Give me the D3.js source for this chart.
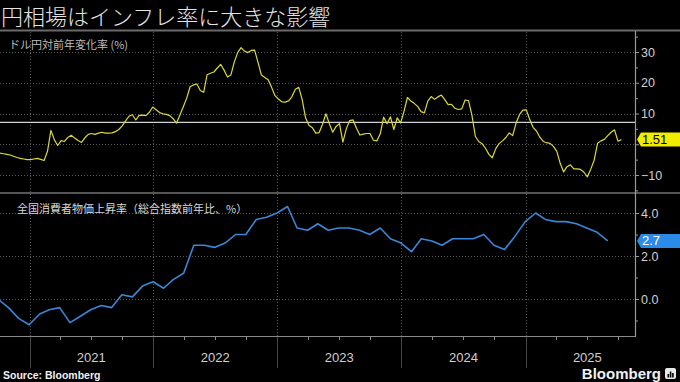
<!DOCTYPE html>
<html><head><meta charset="utf-8">
<script src="https://cdn.jsdelivr.net/npm/d3@7"></script>
<style>
html,body{margin:0;padding:0;background:#000;}
svg{display:block;}
</style></head><body>
<svg id="chart" width="680" height="382"></svg>
<script>
// ---- data ----
const titleText = "円相場はインフレ率に大きな影響";
const fxLabel = "ドル円対前年変化率 (%)";
const cpiLabel = "全国消費者物価上昇率（総合指数前年比、%）";
const sourceText = "Source: Bloomberg";
const fxStart = "2020-10-06";
const fxStepDays = 10;
const fxValues = [
-2.9,-3.1,-3.3,-3.5,-3.9,-4.3,-4.6,-4.8,-5.0,-5.0,
-4.8,-4.6,-4.9,-5.3,-2.3,4.5,1.5,-0.4,1.2,0.9,
2.2,2.9,2.0,1.2,0.6,2.1,3.2,3.5,3.2,3.6,
3.9,3.6,3.6,3.7,4.1,4.8,6.0,7.6,9.1,9.6,
7.9,9.4,9.5,9.3,10.4,12.1,11.2,10.3,9.9,9.7,
9.3,8.3,6.9,9.5,12.2,15.0,18.7,19.3,19.6,17.5,
16.9,22.6,23.1,23.5,24.8,26.0,24.1,21.9,22.5,26.7,
29.8,31.4,30.3,29.8,30.5,30.6,26.6,22.5,21.7,21.0,
18.5,15.8,14.7,13.8,13.7,14.1,15.5,17.9,18.5,14.6,
8.6,6.2,5.4,3.6,3.8,6.5,9.9,6.7,3.9,5.8,
6.7,0.7,5.0,7.7,7.9,5.2,3.0,3.3,3.5,3.5,
1.3,1.1,3.4,8.8,6.7,8.9,4.8,8.6,6.9,10.7,
15.2,14.1,13.3,12.3,10.6,10.2,14.0,15.5,14.6,15.4,
16.0,14.5,12.9,13.0,11.7,11.3,11.5,14.4,14.2,9.5,
2.6,0.9,0.2,-1.3,-3.3,-4.4,-1.5,0.2,1.1,2.2,
3.7,2.8,6.9,9.6,11.1,11.2,8.1,5.5,4.3,2.3,
0.9,0.5,0.3,-0.7,-2.3,-6.2,-9.0,-7.3,-6.7,-8.0,
-8.0,-8.2,-9.1,-10.6,-8.1,-5.2,0.3,1.1,1.6,2.8,
3.9,4.7,1.0,1.51];
const fxRefValue = 7.1;
const fxTicks = [30, 20, 10, 0, -10];
const fxMinorTicks = [35, 25, 15, 5, -5, -15];
const cpiStartMonth = "2020-09";
const cpiValues = [
0.0,-0.4,-0.9,-1.2,
-0.7,-0.5,-0.4,-1.1,-0.8,-0.5,-0.3,-0.4,0.2,0.1,0.6,0.8,
0.5,0.9,1.2,2.5,2.5,2.4,2.6,3.0,3.0,3.7,3.8,4.0,
4.3,3.3,3.2,3.5,3.2,3.3,3.3,3.2,3.0,3.3,2.8,2.6,
2.2,2.8,2.7,2.5,2.8,2.8,2.8,3.0,2.5,2.3,2.9,3.6,
4.0,3.7,3.6,3.6,3.5,3.3,3.1,2.7];
const cpiTicks = [4.0, 2.0, 0.0];
const cpiMinorTicks = [3.0, 1.0, -1.0];
const yearLabels = [2021, 2022, 2023, 2024, 2025];

// ---- build series ----
const parseDay = d3.timeParse("%Y-%m-%d");
const parseMonth = d3.timeParse("%Y-%m");
const fxData = fxValues.map((v, i) => ({date: d3.timeDay.offset(parseDay(fxStart), i * fxStepDays), value: v}));
const cpiData = cpiValues.map((v, i) => ({date: d3.timeDay.offset(d3.timeMonth.offset(parseMonth(cpiStartMonth), i + 1), -1), value: v}));

// ---- layout ----
const W = 680, H = 382;
const plotR = 635;
const top1 = 32, bot1 = 192, top2 = 194, bot2 = 336;
const svg = d3.select("#chart");
svg.append("rect").attr("width", W).attr("height", H).attr("fill", "#000");

const x = d3.scaleTime().domain([new Date(2021,0,1), new Date(2026,0,1)]).range([29.5, 649.5]);
const yFx = d3.scaleLinear().domain([-10, 30]).range([175, 52]);
const yCpi = d3.scaleLinear().domain([0, 4]).range([299, 213]);

const defs = svg.append("defs");
defs.append("clipPath").attr("id","c1").append("rect").attr("x",0).attr("y",top1).attr("width",plotR).attr("height",bot1-top1);
defs.append("clipPath").attr("id","c2").append("rect").attr("x",0).attr("y",top2).attr("width",plotR).attr("height",bot2-top2);

const cjk = "'Noto Sans CJK JP', 'Noto Sans', sans-serif";
const num = "'Liberation Sans Narrow', 'Liberation Sans', Roboto, sans-serif";

// title
svg.append("text").attr("x", 1).attr("y", 25).attr("fill", "#e4e4e4")
  .attr("font-family", cjk).attr("font-weight", 300).attr("font-size", 22).text(titleText);
svg.append("line").attr("x1",0).attr("x2",W).attr("y1",30.5).attr("y2",30.5)
  .attr("stroke","#6a6a6a").attr("stroke-width",2);

// horizontal gridlines
const grid = svg.append("g").attr("stroke","#5a5a5a").attr("stroke-dasharray","1,2").attr("stroke-width",1);
fxTicks.forEach(t => grid.append("line").attr("x1",0).attr("x2",plotR).attr("y1",Math.round(yFx(t))+0.5).attr("y2",Math.round(yFx(t))+0.5));
cpiTicks.forEach(t => grid.append("line").attr("x1",0).attr("x2",plotR).attr("y1",Math.round(yCpi(t))+0.5).attr("y2",Math.round(yCpi(t))+0.5));

// vertical year gridlines
yearLabels.forEach(yr => {
  const xx = Math.round(x(new Date(yr,0,1))) + 0.5;
  grid.append("line").attr("x1",xx).attr("x2",xx).attr("y1",top1).attr("y2",bot2);
  svg.append("line").attr("x1",xx).attr("x2",xx).attr("y1",bot2).attr("y2",368)
    .attr("stroke","#444").attr("stroke-width",1);
});

// reference line
svg.append("line").attr("x1",0).attr("x2",plotR).attr("y1",yFx(fxRefValue)).attr("y2",yFx(fxRefValue))
  .attr("stroke","#d0d0d0").attr("stroke-width",1.3);

// panel divider
svg.append("line").attr("x1",0).attr("x2",W).attr("y1",193).attr("y2",193)
  .attr("stroke","#555").attr("stroke-width",2);

// fx line
svg.append("path").datum(fxData).attr("clip-path","url(#c1)")
  .attr("fill","none").attr("stroke","#dcd83a").attr("stroke-width",1.2).attr("stroke-linejoin","round")
  .attr("d", d3.line().x(d => x(d.date)).y(d => yFx(d.value)));

// cpi line
svg.append("path").datum(cpiData).attr("clip-path","url(#c2)")
  .attr("fill","none").attr("stroke","#3a86d8").attr("stroke-width",1.6).attr("stroke-linejoin","round")
  .attr("d", d3.line().x(d => x(d.date)).y(d => yCpi(d.value)));

// panel labels
svg.append("text").attr("x",9).attr("y",49).attr("fill","#bdbdbd").attr("font-family",cjk).attr("font-size",11).text(fxLabel);
svg.append("text").attr("x",17).attr("y",213).attr("fill","#d8d8d8").attr("font-family",cjk).attr("font-size",11).text(cpiLabel);

// bottom axis line & quarter ticks
svg.append("line").attr("x1",0).attr("x2",plotR).attr("y1",bot2+0.5).attr("y2",bot2+0.5).attr("stroke","#8a8a8a").attr("stroke-width",1);
const qTicks = d3.timeMonth.every(3).range(x.invert(0), x.invert(plotR)).filter(d => d.getMonth() !== 0);
svg.append("g").selectAll("line").data(qTicks).join("line")
  .attr("x1", d => Math.round(x(d))+0.5).attr("x2", d => Math.round(x(d))+0.5)
  .attr("y1", bot2).attr("y2", bot2+4).attr("stroke","#8a8a8a");

// year labels
svg.append("g").selectAll("text").data(yearLabels).join("text")
  .attr("x", d => x(new Date(d,6,2))).attr("y", 362).attr("text-anchor","middle")
  .attr("fill","#cfcfcf").attr("font-family",num).attr("font-size",13).text(d => d);

// right axis
svg.append("line").attr("x1",plotR+0.5).attr("x2",plotR+0.5).attr("y1",31).attr("y2",bot2+1).attr("stroke","#9a9a9a").attr("stroke-width",1.2);
function styleAxis(g){
  g.select(".domain").remove();
  g.selectAll(".tick line").attr("stroke","#9a9a9a");
  g.selectAll(".tick text").attr("fill","#d0d0d0").attr("font-family",num).attr("font-size",12.5);
}
const lastFx = fxData[fxData.length-1], lastCpi = cpiData[cpiData.length-1];
// the "0" label sits beneath the last-value tag, so it is left out as in the reference
svg.append("g").attr("transform",`translate(${plotR},0)`)
  .call(d3.axisRight(yFx).tickValues(fxTicks).tickSize(4).tickPadding(2)
    .tickFormat(d => Math.abs(yFx(d) - yFx(lastFx.value)) < 9 ? "" : d3.format("d")(d))).call(styleAxis);
svg.append("g").attr("transform",`translate(${plotR},0)`)
  .call(d3.axisRight(yFx).tickValues(fxMinorTicks.filter(t => yFx(t) > top1 && yFx(t) < bot1)).tickSize(3).tickFormat("")).call(styleAxis);
svg.append("g").attr("transform",`translate(${plotR},0)`)
  .call(d3.axisRight(yCpi).tickValues(cpiTicks).tickSize(4).tickPadding(2).tickFormat(d3.format(".1f"))).call(styleAxis);
svg.append("g").attr("transform",`translate(${plotR},0)`)
  .call(d3.axisRight(yCpi).tickValues(cpiMinorTicks).tickSize(3).tickFormat("")).call(styleAxis);

// last value labels
function valueTag(yv, fill, txtColor, label){
  const g = svg.append("g");
  const h = 14;
  g.append("path").attr("fill", fill)
    .attr("d", `M${plotR+2},${yv} L${plotR+6},${yv-h/2} L${W},${yv-h/2} L${W},${yv+h/2} L${plotR+6},${yv+h/2} Z`);
  g.append("text").attr("x", plotR+7).attr("y", yv+4.5).attr("fill", txtColor)
    .attr("font-family", num).attr("font-size", 13).text(label);
}
valueTag(yFx(lastFx.value), "#f2ec00", "#000", d3.format(".2f")(lastFx.value));
valueTag(yCpi(lastCpi.value), "#2a8be8", "#fff", d3.format(".1f")(lastCpi.value));

// footer
svg.append("text").attr("x",3).attr("y",379).attr("fill","#f0f0f0").attr("font-family","'Liberation Sans', sans-serif")
  .attr("font-weight","bold").attr("font-size",10.5).text(sourceText);
svg.append("text").attr("x",661).attr("y",379).attr("text-anchor","end").attr("fill","#f0f0f0")
  .attr("font-family","'Liberation Sans Narrow', 'Liberation Sans', sans-serif").attr("font-weight","bold").attr("font-size",15).text("Bloomberg");
const icon = svg.append("g").attr("transform","translate(665,368)");
icon.append("rect").attr("width",11).attr("height",11).attr("rx",2).attr("fill","#e8e8e8");
[[2.5,6,1.6,3.5],[4.8,3.5,1.6,6],[7.1,5,1.6,4.5]].forEach(b => icon.append("rect").attr("x",b[0]).attr("y",b[1]).attr("width",b[2]).attr("height",b[3]).attr("fill","#000"));
</script>
</body></html>
